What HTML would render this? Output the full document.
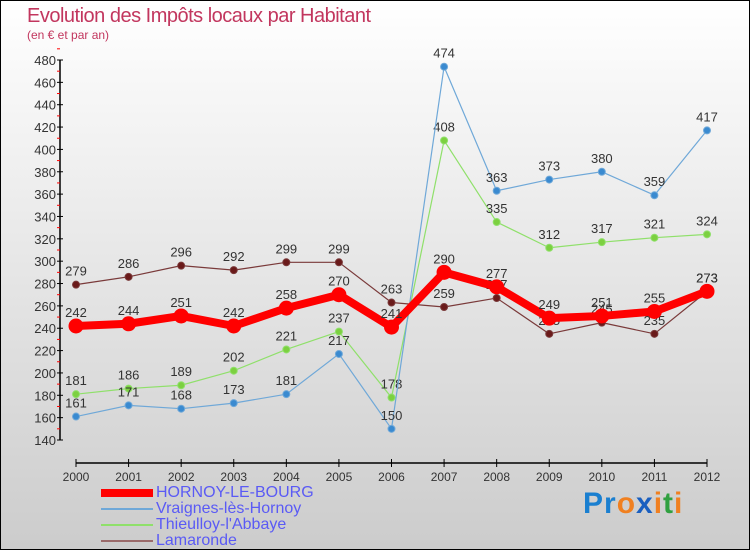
<!DOCTYPE html>
<html><head><meta charset="utf-8"><style>
body{margin:0;}
#wrap{position:relative;width:748px;height:548px;border:1px solid #000;background:linear-gradient(#fff,#ccc);font-family:"Liberation Sans",sans-serif;overflow:hidden}
.t{position:absolute;margin:0}
</style></head><body>
<div id="wrap">
<div class="t" style="left:26px;top:4px;font-size:20px;color:#c2365e;letter-spacing:-0.5px">Evolution des Impôts locaux par Habitant</div>
<div class="t" style="left:26px;top:27px;font-size:12px;color:#c2365e">(en € et par an)</div>
<svg id="chart" width="750" height="550" style="position:absolute;left:-1px;top:-1px"></svg>
<div class="t" style="left:100px;top:484px;font-size:16px;color:#5a5af5;line-height:16px">
 <div><span style="display:inline-block;width:52px;height:8px;background:#f00;margin-right:3px;vertical-align:middle"></span>HORNOY-LE-BOURG</div>
 <div><span style="display:inline-block;width:52px;height:2px;background:#6fa8d8;margin-right:3px;vertical-align:middle"></span>Vraignes-lès-Hornoy</div>
 <div><span style="display:inline-block;width:52px;height:2px;background:#8fe06a;margin-right:3px;vertical-align:middle"></span>Thieulloy-l'Abbaye</div>
 <div><span style="display:inline-block;width:52px;height:2px;background:#9a6a6a;margin-right:3px;vertical-align:middle"></span>Lamaronde</div>
</div>
<div class="t" style="left:582px;top:486px;font-size:30px;font-weight:bold;letter-spacing:1px"><span style="color:#1a7fd0">Pr</span><span style="color:#f08020">o</span><span style="color:#1a5fc0">x</span><span style="color:#f08020">i</span><span style="color:#30a040">t</span><span style="color:#f08020">i</span></div>
</div>
<script>
const years=[2000,2001,2002,2003,2004,2005,2006,2007,2008,2009,2010,2011,2012];
const hornoy=[242,244,251,242,258,270,241,290,277,249,251,255,273];
const vraignes=[161,171,168,173,181,217,150,474,363,373,380,359,417];
const thieulloy=[181,186,189,202,221,237,178,408,335,312,317,321,324];
const lamaronde=[279,286,296,292,299,299,263,259,267,235,245,235,273];
const yTicks=[140,160,180,200,220,240,260,280,300,320,340,360,380,400,420,440,460,480];
const NS="http://www.w3.org/2000/svg";
const svg=document.getElementById('chart');
function x(i){return 76+i*(707-76)/(years.length-1);}
function y(v){return 440-(v-140)*(380/340);}
function el(t,a){const e=document.createElementNS(NS,t);for(const k in a)e.setAttribute(k,a[k]);svg.appendChild(e);return e;}
let ax=el('line',{x1:60,y1:y(480),x2:60,y2:y(140),stroke:'#000','stroke-width':1.5});


let xa=el('line',{x1:76,y1:463,x2:707,y2:463,stroke:'#000','stroke-width':1.5});


yTicks.forEach(v=>{
 el('line',{x1:57,y1:y(v),x2:63,y2:y(v),stroke:'#000'});
 el('line',{x1:57,y1:y(v+10),x2:60,y2:y(v+10),stroke:'#f00'});
 const t=el('text',{x:56,y:y(v)+5,'text-anchor':'end','font-size':13,fill:'#333','font-family':'Liberation Sans'});
 t.textContent=v;
 
 
});
years.forEach((yr,i)=>{
 el('line',{x1:x(i),y1:459,x2:x(i),y2:467,stroke:'#000'});
 const t=el('text',{x:x(i),y:481,'text-anchor':'middle','font-size':12,fill:'#333','font-family':'Liberation Sans'});
 t.textContent=yr;
 
 
});
function series(data,color,w,r,dot,name){
 const p=el('polyline',{points:data.map((v,i)=>x(i)+','+y(v)).join(' '),fill:'none',stroke:color,'stroke-width':w,'stroke-linejoin':'round'});
 
 
 data.forEach((v,i)=>{
  const c=el('circle',{cx:x(i),cy:y(v),r:r,fill:dot,stroke:color,'stroke-width':1});
  
  
  const t=el('text',{x:x(i),y:y(v)-9,'text-anchor':'middle','font-size':13,fill:'#333','font-family':'Liberation Sans'});
  t.textContent=v;
  
  
 });
}
series(lamaronde,'#7a3a3a',1.2,3.5,'#6a1a1a','lamaronde');
series(thieulloy,'#8fe06a',1.2,3.5,'#7cd040','thieulloy');
series(vraignes,'#6fa8d8',1.2,3.5,'#3a8ad0','vraignes');
series(hornoy,'#f00',8,7,'#f00','hornoy');
</script>
</body></html>
